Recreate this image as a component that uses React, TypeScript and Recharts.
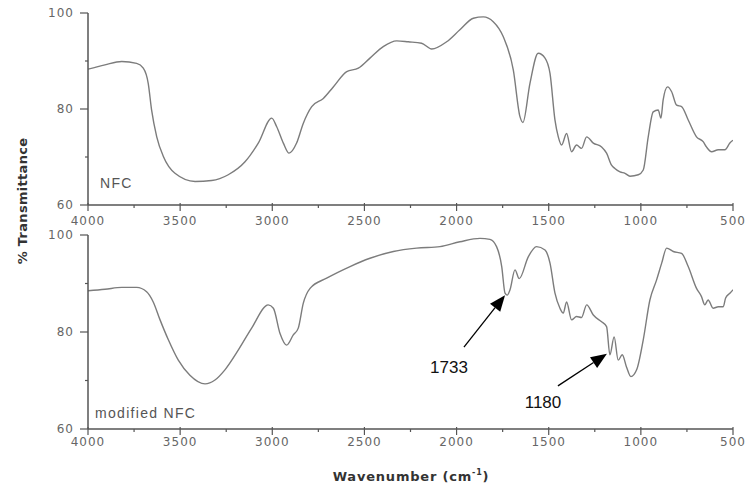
import React from "react";
import {
  LineChart,
  Line,
  XAxis,
  YAxis,
  ReferenceLine,
  ReferenceDot,
} from "recharts";

// wavenumber (cm-1) and % transmittance
const nfcWave = [
  4000, 3908, 3817, 3736, 3700, 3673, 3655, 3627, 3591, 3528, 3419, 3329, 3239,
  3148, 3076, 3003, 2976, 2940, 2909, 2868, 2832, 2786, 2723, 2669, 2596, 2533,
  2470, 2398, 2325, 2262, 2190, 2135, 2054, 1982, 1909, 1855, 1801, 1747, 1692,
  1656, 1640, 1602, 1557, 1520, 1493, 1466, 1448, 1430, 1403, 1376, 1349, 1322,
  1294, 1258, 1213, 1186, 1159, 1141, 1113, 1086, 1059, 1014, 987, 960, 933,
  906, 891, 879, 855, 833, 806, 779, 743, 698, 662, 644, 616, 580, 544, 517, 500,
];
const nfcT = [
  88.3, 89.2, 89.9, 89.5, 88.5, 85.3, 79.8, 74.2, 70.1, 66.6, 64.9, 65.1, 66.3,
  69.0, 72.9, 78.1, 76.3, 72.9, 70.8, 72.9, 77.0, 80.5, 82.2, 84.6, 87.8, 88.5,
  90.6, 93.0, 94.2, 94.0, 93.7, 92.5, 94.0, 96.5, 98.9, 99.2, 98.2, 95.1, 88.1,
  78.4, 77.2, 85.3, 91.6, 90.6, 87.4, 77.7, 74.2, 72.5, 74.9, 71.1, 72.5, 71.8,
  74.2, 72.9, 72.1, 70.8, 68.3, 67.6, 66.9, 66.6, 66.0, 66.3, 67.3, 74.2, 79.4,
  79.8, 78.1, 81.9, 84.6, 83.6, 80.8, 80.5, 77.7, 74.2, 73.2, 72.1, 71.1, 71.5,
  71.5, 72.9, 73.5,
];

const modWave = [
  4000, 3908, 3817, 3736, 3682, 3646, 3609, 3564, 3510, 3447, 3365, 3311, 3257,
  3184, 3112, 3022, 2994, 2958, 2922, 2886, 2859, 2832, 2795, 2705, 2578, 2470,
  2343, 2217, 2090, 1982, 1873, 1819, 1783, 1755, 1737, 1725, 1710, 1683, 1660,
  1611, 1566, 1520, 1493, 1466, 1439, 1421, 1403, 1376, 1349, 1322, 1294, 1258,
  1213, 1186, 1168, 1145, 1123, 1101, 1078, 1054, 1023, 987, 951, 915, 887, 860,
  824, 779, 743, 698, 671, 653, 635, 608, 580, 553, 540, 517, 500,
];
const modT = [
  88.5, 88.8, 89.2, 89.2, 88.3, 86.2, 82.5, 78.4, 74.2, 71.1, 69.3, 70.1, 72.2,
  76.3, 80.8, 85.6, 84.9, 79.7, 77.3, 79.4, 80.8, 85.9, 89.0, 91.1, 93.5, 95.2,
  96.6, 97.3, 97.6, 98.6, 99.3, 99.1, 97.6, 93.5, 88.0, 87.6, 88.7, 92.8, 91.0,
  95.5, 97.6, 96.9, 94.2, 88.0, 84.9, 83.9, 86.2, 82.5, 83.2, 83.0, 85.6, 83.5,
  82.1, 81.1, 75.3, 79.0, 74.2, 75.3, 72.8, 70.8, 72.2, 78.4, 86.6, 90.7, 94.2,
  97.3, 96.6, 96.2, 93.5, 89.0, 87.3, 85.6, 86.6, 84.9, 85.2, 85.2, 87.0, 88.0,
  88.7,
];

const xTicks = [
  4000, 3750, 3500, 3250, 3000, 2750, 2500, 2250, 2000, 1750, 1500, 1250, 1000,
  750, 500,
];
const yTicks = [60, 70, 80, 90, 100];

// peak annotations on the modified NFC panel
const peakNames = ["1733", "1180"];
const arrowTip = [
  { x: 1737, y: 87.6 },
  { x: 1184, y: 75.5 },
];
const arrowTail = [
  { x: 1960, y: 76.9 },
  { x: 1450, y: 68.9 },
];
const peakTextAt = [
  { x: 2041, y: 72.8 },
  { x: 1531, y: 65.6 },
];

const nfcData = nfcWave.map((w, i) => ({ w, t: nfcT[i] }));
const modData = modWave.map((w, i) => ({ w, t: modT[i] }));

const axisColor = "#555";
const curveColor = "#7c7c7c";
const tickFont = "DejaVu Sans, sans-serif";

function XTick(props: any) {
  const { x, y, payload, labelDy } = props;
  const major = payload.value % 500 === 0;
  return (
    <g>
      <line
        x1={x}
        x2={x}
        y1={major ? y - 2 : y}
        y2={y + (major ? 6 : 3)}
        stroke={axisColor}
        strokeWidth={1.2}
      />
      {major && (
        <text
          x={x}
          y={y + labelDy}
          textAnchor="middle"
          fontFamily={tickFont}
          fontSize={12}
          letterSpacing={1}
          fill="#666"
        >
          {payload.value}
        </text>
      )}
    </g>
  );
}

function YTick(props: any) {
  const { x, y, payload } = props;
  const major = payload.value % 20 === 0;
  return (
    <g>
      <line
        x1={x - (major ? 8 : 3)}
        x2={x}
        y1={y}
        y2={y}
        stroke={axisColor}
        strokeWidth={1.2}
      />
      {major && (
        <text
          x={x - 14}
          y={y}
          dy={4}
          textAnchor="end"
          fontFamily={tickFont}
          fontSize={12}
          letterSpacing={1}
          fill="#666"
        >
          {payload.value}
        </text>
      )}
    </g>
  );
}

function Arrow(props: any) {
  const { x1, y1, x2, y2 } = props;
  const dx = x2 - x1;
  const dy = y2 - y1;
  const len = Math.hypot(dx, dy) || 1;
  const ux = dx / len;
  const uy = dy / len;
  const hl = 16;
  const hw = 6.5;
  const bx = x2 - ux * hl;
  const by = y2 - uy * hl;
  const pts = `${x2},${y2} ${bx - uy * hw},${by + ux * hw} ${bx + uy * hw},${by - ux * hw}`;
  return (
    <g>
      <line x1={x1} y1={y1} x2={bx} y2={by} stroke="#000" strokeWidth={1.3} />
      <polygon points={pts} fill="#000" />
    </g>
  );
}

function Panel({
  data,
  height,
  xAxisHeight,
  labelDy,
  children,
}: {
  data: { w: number; t: number }[];
  height: number;
  xAxisHeight: number;
  labelDy: number;
  children?: React.ReactNode;
}) {
  return (
    <LineChart
      width={751}
      height={height}
      data={data}
      margin={{ top: 13, right: 18, left: 0, bottom: 0 }}
    >
      <XAxis
        type="number"
        dataKey="w"
        domain={[500, 4000]}
        reversed
        ticks={xTicks}
        interval={0}
        tickSize={0}
        tickMargin={0}
        tickLine={false}
        height={xAxisHeight}
        axisLine={{ stroke: axisColor, strokeWidth: 1.5 }}
        tick={<XTick labelDy={labelDy} />}
        allowDataOverflow
      />
      <YAxis
        type="number"
        domain={[60, 100]}
        ticks={yTicks}
        interval={0}
        width={88}
        tickSize={0}
        tickMargin={0}
        tickLine={false}
        axisLine={{ stroke: axisColor, strokeWidth: 1.5 }}
        tick={<YTick />}
        allowDataOverflow
      />
      <Line
        type="monotone"
        dataKey="t"
        stroke={curveColor}
        strokeWidth={1.4}
        dot={false}
        isAnimationActive={false}
      />
      {children}
    </LineChart>
  );
}

const panelLabel: React.CSSProperties = {
  position: "absolute",
  fontFamily: "Liberation Sans, Arial, sans-serif",
  fontSize: 14,
  letterSpacing: 1.3,
  color: "#555",
  lineHeight: "16px",
  whiteSpace: "nowrap",
};

export default function App() {
  return (
    <div
      style={{
        position: "absolute",
        left: 0,
        top: 0,
        width: 751,
        height: 488,
        background: "#fff",
        overflow: "hidden",
      }}
    >
      <div style={{ position: "absolute", left: 0, top: 0 }}>
        <Panel data={nfcData} height={230} xAxisHeight={25} labelDy={20} />
      </div>
      <div style={{ position: "absolute", left: 0, top: 222 }}>
        <Panel data={modData} height={266} xAxisHeight={59} labelDy={17}>
          {peakNames.map((name, i) => (
            <ReferenceLine
              key={"a" + name}
              segment={[arrowTail[i], arrowTip[i]]}
              shape={Arrow}
              ifOverflow="visible"
            />
          ))}
          {peakNames.map((name, i) => (
            <ReferenceDot
              key={"t" + name}
              x={peakTextAt[i].x}
              y={peakTextAt[i].y}
              r={1}
              ifOverflow="visible"
              shape={(p: any) => (
                <text
                  x={p.cx}
                  y={p.cy}
                  dy={6}
                  textAnchor="middle"
                  fontFamily="Liberation Sans, Arial, sans-serif"
                  fontSize={17}
                  fill="#111"
                >
                  {name}
                </text>
              )}
            />
          ))}
        </Panel>
      </div>
      <div style={{ ...panelLabel, left: 100, top: 175 }}>NFC</div>
      <div style={{ ...panelLabel, left: 95, top: 405 }}>modified NFC</div>
      <div
        style={{
          position: "absolute",
          left: 23 - 80,
          top: 201 - 8,
          width: 160,
          height: 16,
          lineHeight: "16px",
          textAlign: "center",
          transform: "rotate(-90deg)",
          fontFamily: "DejaVu Sans, sans-serif",
          fontWeight: "bold",
          fontSize: 13,
          letterSpacing: 0.3,
          color: "#333",
          whiteSpace: "nowrap",
        }}
      >
        % Transmittance
      </div>
      <div
        style={{
          position: "absolute",
          left: 411 - 100,
          top: 469,
          width: 200,
          lineHeight: "16px",
          textAlign: "center",
          fontFamily: "DejaVu Sans, sans-serif",
          fontWeight: "bold",
          fontSize: 13,
          letterSpacing: 0.8,
          color: "#333",
          whiteSpace: "nowrap",
        }}
      >
        Wavenumber (cm
        <sup style={{ fontSize: 8, verticalAlign: "6px", lineHeight: 0 }}>-1</sup>)
      </div>
    </div>
  );
}
